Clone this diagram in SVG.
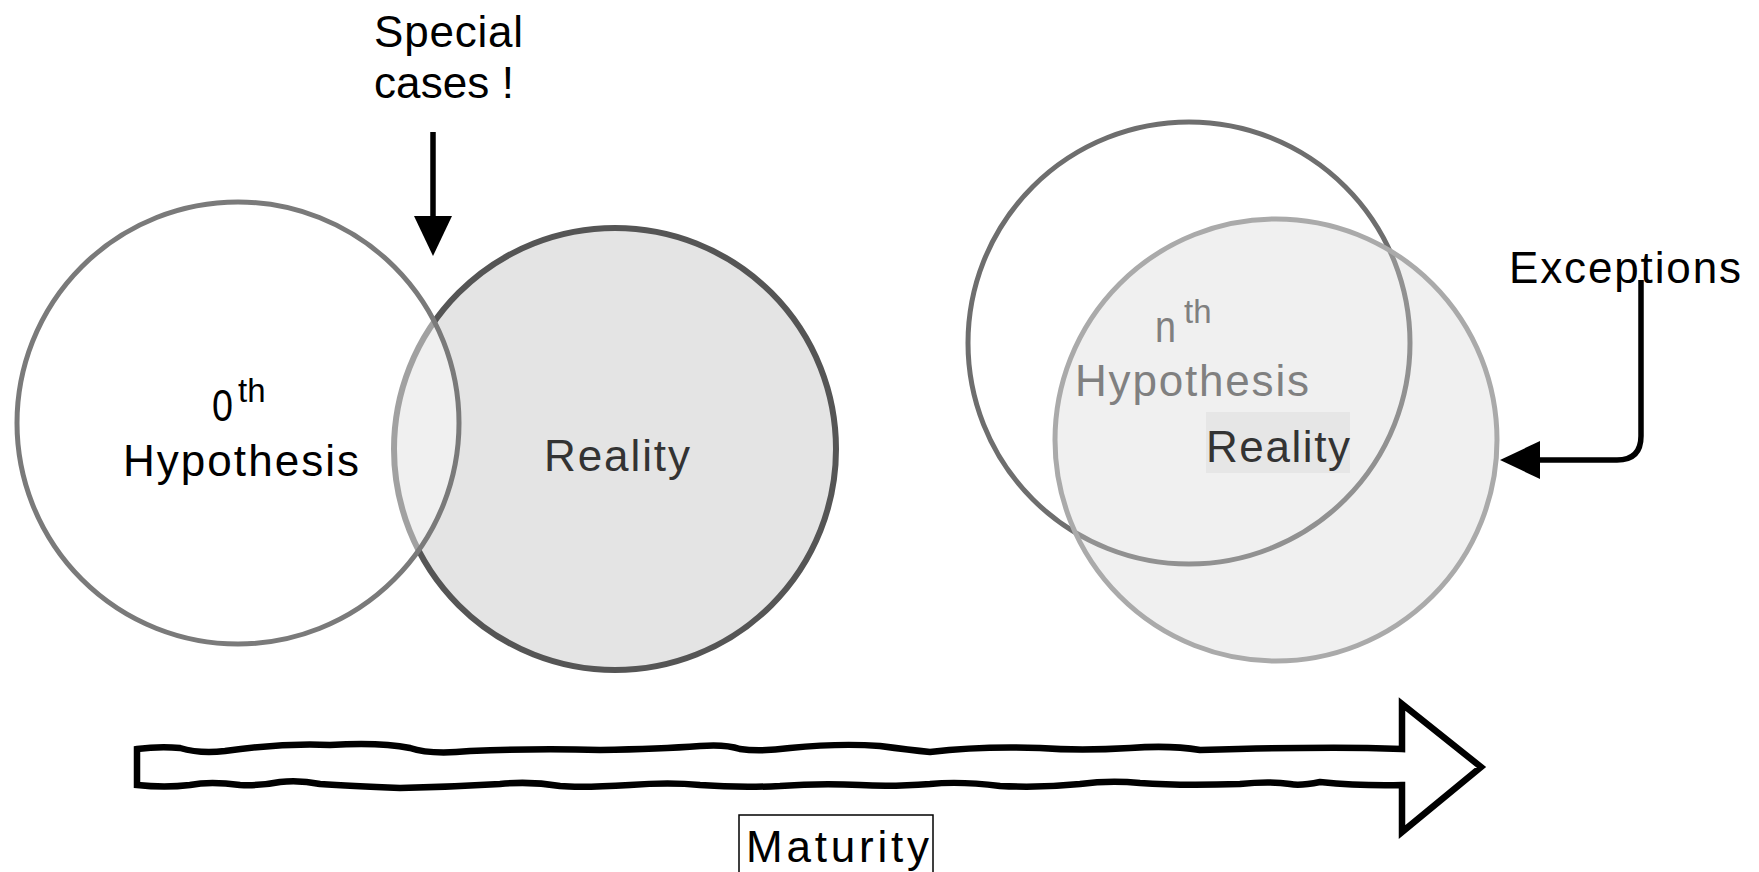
<svg xmlns="http://www.w3.org/2000/svg" width="1759" height="872" viewBox="0 0 1759 872">
<style>
text{font-family:"Liberation Sans",Arial,sans-serif;font-size:44px;fill:#000}
.sup{font-size:33px}
.dark{fill:#333}
.grey{fill:#808080}
.conn{fill:none;stroke:#000;stroke-width:5.5}
</style>
<defs>
<marker id="ah" markerUnits="userSpaceOnUse" markerWidth="44" markerHeight="44" viewBox="0 0 44 44" refX="4" refY="22" orient="auto">
<path d="M2,3 L42,22 L2,41 Z" fill="#000"/>
</marker>
</defs>
<rect width="1759" height="872" fill="#fff"/>

<g id="reality-left">
<circle cx="615" cy="449" r="221" fill="#e4e4e4" stroke="#555" stroke-width="6"/>
<text class="dark" x="544" y="471" textLength="146" lengthAdjust="spacing">Reality</text>
</g>
<g id="hypothesis-0">
<circle cx="238" cy="423" r="221" fill="#fff" fill-opacity="0.45" stroke="#7a7a7a" stroke-width="5"/>
<text x="212" y="421" textLength="21" lengthAdjust="spacingAndGlyphs">0</text>
<text class="sup" x="238" y="402">th</text>
<text x="123" y="476" textLength="236" lengthAdjust="spacing">Hypothesis</text>
</g>

<g id="hypothesis-n">
<circle cx="1189" cy="343" r="221" fill="#fff" stroke="#6e6e6e" stroke-width="5"/>
</g>
<g id="reality-right">
<circle cx="1276" cy="440" r="221" fill="#d4d4d4" fill-opacity="0.35" stroke="#aaa" stroke-width="5"/>
<rect x="1206" y="412" width="144" height="61" fill="#e6e6e6"/>
<text class="dark" x="1206" y="462" textLength="144" lengthAdjust="spacing">Reality</text>
</g>
<g id="hypothesis-n-label">
<text class="grey" x="1155" y="342" textLength="21" lengthAdjust="spacingAndGlyphs">n</text>
<text class="grey sup" x="1184" y="323">th</text>
<text class="grey" x="1075" y="396" textLength="234" lengthAdjust="spacing">Hypothesis</text>
</g>

<g id="special-cases">
<text x="374" y="47" textLength="149" lengthAdjust="spacing">Special</text>
<text x="374" y="98" textLength="140" lengthAdjust="spacing">cases !</text>
</g>
<g id="exceptions">
<text x="1509" y="283" textLength="232" lengthAdjust="spacing">Exceptions</text>
</g>

<g id="connectors">
<path class="conn" d="M433,132 L433,218" marker-end="url(#ah)"/>
<path class="conn" d="M1641,280 L1641,436 Q1641,460 1617,460 L1538,460" marker-end="url(#ah)"/>
</g>

<g id="maturity-arrow">
<path d="M137,749 Q160,746 180,748 Q200,754 225,751 Q280,743 330,745 Q380,742 410,748 Q430,755 470,751 Q540,748 600,750 Q660,749 700,746 Q725,744 740,749 Q760,752 790,748 Q840,743 880,746 Q910,750 930,752 Q980,746 1040,748 Q1080,751 1130,748 Q1170,745 1200,750 Q1260,748 1300,748 Q1350,747 1402,749 L1402,704 L1481,767 L1402,832 L1402,785 Q1360,786 1320,782 Q1300,786 1290,784 Q1270,781 1240,784 Q1180,786 1140,783 Q1110,780 1080,784 Q1040,788 1000,786 Q960,781 930,784 Q890,787 860,785 Q820,783 780,786 Q740,788 700,785 Q670,782 630,785 Q580,788 560,786 Q530,781 500,784 Q450,787 400,788 Q350,786 320,784 Q300,780 280,782 Q260,786 240,785 Q210,781 190,785 Q165,788 137,785 Z" fill="#fff" stroke="#000" stroke-width="6.5" stroke-linejoin="miter"/>
</g>
<g id="maturity">
<rect x="739" y="815" width="194" height="60" fill="#fff" stroke="#000" stroke-width="1.5"/>
<text x="746" y="862" textLength="183" lengthAdjust="spacing">Maturity</text>
</g>
</svg>
